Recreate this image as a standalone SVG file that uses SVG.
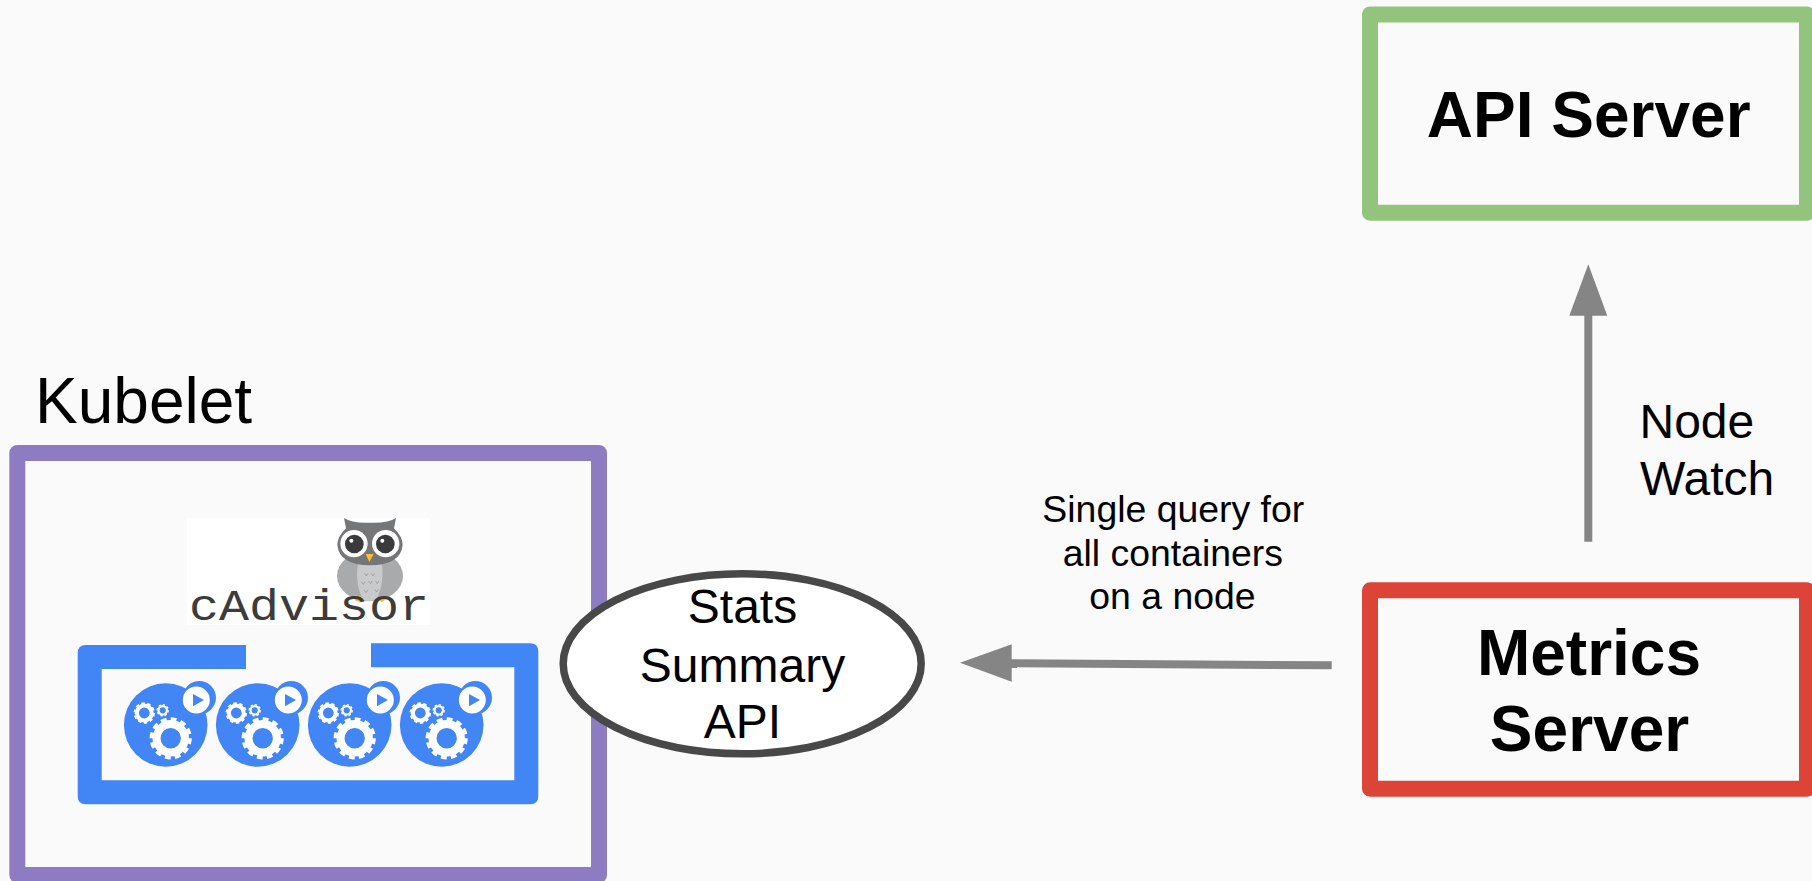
<svg xmlns="http://www.w3.org/2000/svg" width="1812" height="881" viewBox="0 0 1812 881">
<style>
text{font-family:"Liberation Sans",Arial,sans-serif;fill:#000}
.b{font-weight:700;font-size:64px;text-anchor:middle}
.m{font-size:48px}
.c{text-anchor:middle}
.q{font-size:37.4px;text-anchor:middle}
.box{fill:none;stroke-width:16;stroke-linejoin:round}
.line{fill:none;stroke:#858585;stroke-width:8}
.head{fill:#858585}
.blue{fill:#4285f4}
.w{fill:#fff}
.tooth{fill:none;stroke:#fff}
.gearbody{fill:none;stroke:#fff}
.chev{fill:none;stroke:#8f9092;stroke-width:2}
</style>
<defs>
<g id="pod">
<circle class="blue" cx="165.7" cy="725" r="41.8"/>
<circle class="blue" cx="199.3" cy="697.7" r="16.7"/>
<circle class="w" cx="196.3" cy="700" r="13.5"/>
<polygon class="blue" points="193,694 204,700 193,706.3"/>
<circle class="gearbody" cx="170.7" cy="738.3" r="14.2" stroke-width="8"/>
<circle class="tooth" cx="170.7" cy="738.3" r="19" stroke-width="4.2" pathLength="12" stroke-dasharray=".58 .42"/>
<circle class="gearbody" cx="144.3" cy="713" r="7.4" stroke-width="4"/>
<circle class="tooth" cx="144.3" cy="713" r="9.6" stroke-width="2.2" pathLength="10" stroke-dasharray=".58 .42"/>
<circle class="gearbody" cx="162.7" cy="710.3" r="4.2" stroke-width="2.2"/>
<circle class="tooth" cx="162.7" cy="710.3" r="5.6" stroke-width="1.3" pathLength="8" stroke-dasharray=".55 .45"/>
</g>
</defs>
<rect width="1812" height="881" fill="#fafafa"/>
<g id="kubelet">
<rect class="box" x="17.3" y="453" width="581.7" height="422" stroke="#8e7cc3"/>
<text x="35" y="423.3" font-size="64">Kubelet</text>
</g>
<g id="cadvisor">
<rect class="w" x="186.7" y="518.3" width="243.3" height="106.7"/>
<g transform="translate(170 500) scale(.33333)">
<ellipse cx="600" cy="228" rx="99" ry="76" fill="#a9aaac"/>
<path d="M566 180 H634 Q646 250 618 300 Q598 306 580 300 Q552 250 566 180Z" fill="#c9cacc"/>
<path d="M522 54 Q545 70 600 68 Q655 70 678 54 L672 85 Q698 110 698 135 Q692 195 600 196 Q508 195 502 135 Q502 110 528 85Z" fill="#757678"/>
<circle class="w" cx="552" cy="131" r="41"/>
<circle class="w" cx="647" cy="131" r="41"/>
<circle cx="553" cy="132" r="28" fill="#3a3a3c"/>
<circle cx="646" cy="132" r="28" fill="#3a3a3c"/>
<circle class="w" cx="544" cy="122" r="6"/>
<circle class="w" cx="637" cy="122" r="6"/>
<polygon points="587,162 611,162 598,186" fill="#fcc02e"/>
<path class="chev" d="M584 220l5 8 5-8M604 220l5 8 5-8M574 245l6 8 5-8M596 243l6 8 5-8M616 243l6 8 5-8M582 270l6 8 5-8M614 268l6 8 5-8"/>
<path d="M552 287l6-2 5 3 6-2 7 6-5 16-16-7Z" fill="#fcc02e"/>
<path d="M628 292l7-3 6 2 6-3 6 6-17 13-9-5Z" fill="#fcc02e"/>
</g>
<text transform="translate(189 620) scale(1 .88)" font-size="50" textLength="240" lengthAdjust="spacingAndGlyphs" style="font-family:'Liberation Mono',monospace;fill:#3c3c3c">cAdvisor</text>
</g>
<g id="containers">
<path class="blue" d="M246 645H86Q77.7 645 77.7 653V796Q77.7 804.3 86 804.3H530Q538.3 804.3 538.3 796V651.5Q538.3 643.3 530 643.3H371V667.3H514.3V780.3H101.7V669H246Z"/>
<use href="#pod"/>
<use href="#pod" x="92"/>
<use href="#pod" x="184"/>
<use href="#pod" x="276"/>
</g>
<g id="stats-api">
<ellipse cx="742.2" cy="663.8" rx="179" ry="90" fill="#fff" stroke="#484848" stroke-width="7.5"/>
<text class="m c" x="742.5" y="622.7">Stats</text>
<text class="m c" x="742.5" y="681.5">Summary</text>
<text class="m c" x="742.5" y="738">API</text>
</g>
<g id="api-server">
<rect class="box" x="1370" y="14.5" width="437" height="198.2" stroke="#93c47d"/>
<text class="b" x="1588.7" y="137.3">API Server</text>
</g>
<g id="metrics-server">
<rect class="box" x="1370" y="590.3" width="437" height="198.4" stroke="#db4437"/>
<text class="b" x="1589" y="675">Metrics</text>
<text class="b" x="1589.5" y="751">Server</text>
</g>
<g id="connectors">
<line class="line" x1="1331.7" y1="665.3" x2="1011" y2="663.3"/>
<polygon class="head" points="960,662.7 1011.7,644.3 1011.7,681.7"/>
<line class="line" x1="1588.3" y1="541.7" x2="1588.3" y2="315"/>
<polygon class="head" points="1588.3,264.3 1569.3,315.7 1607.3,315.7"/>
</g>
<g id="labels">
<text class="q" x="1173.3" y="521.7">Single query for</text>
<text class="q" x="1172.8" y="565.5">all containers</text>
<text class="q" x="1172.5" y="609.3">on a node</text>
<text class="m" x="1639.5" y="438.3">Node</text>
<text class="m" x="1640" y="495.3">Watch</text>
</g>
</svg>
